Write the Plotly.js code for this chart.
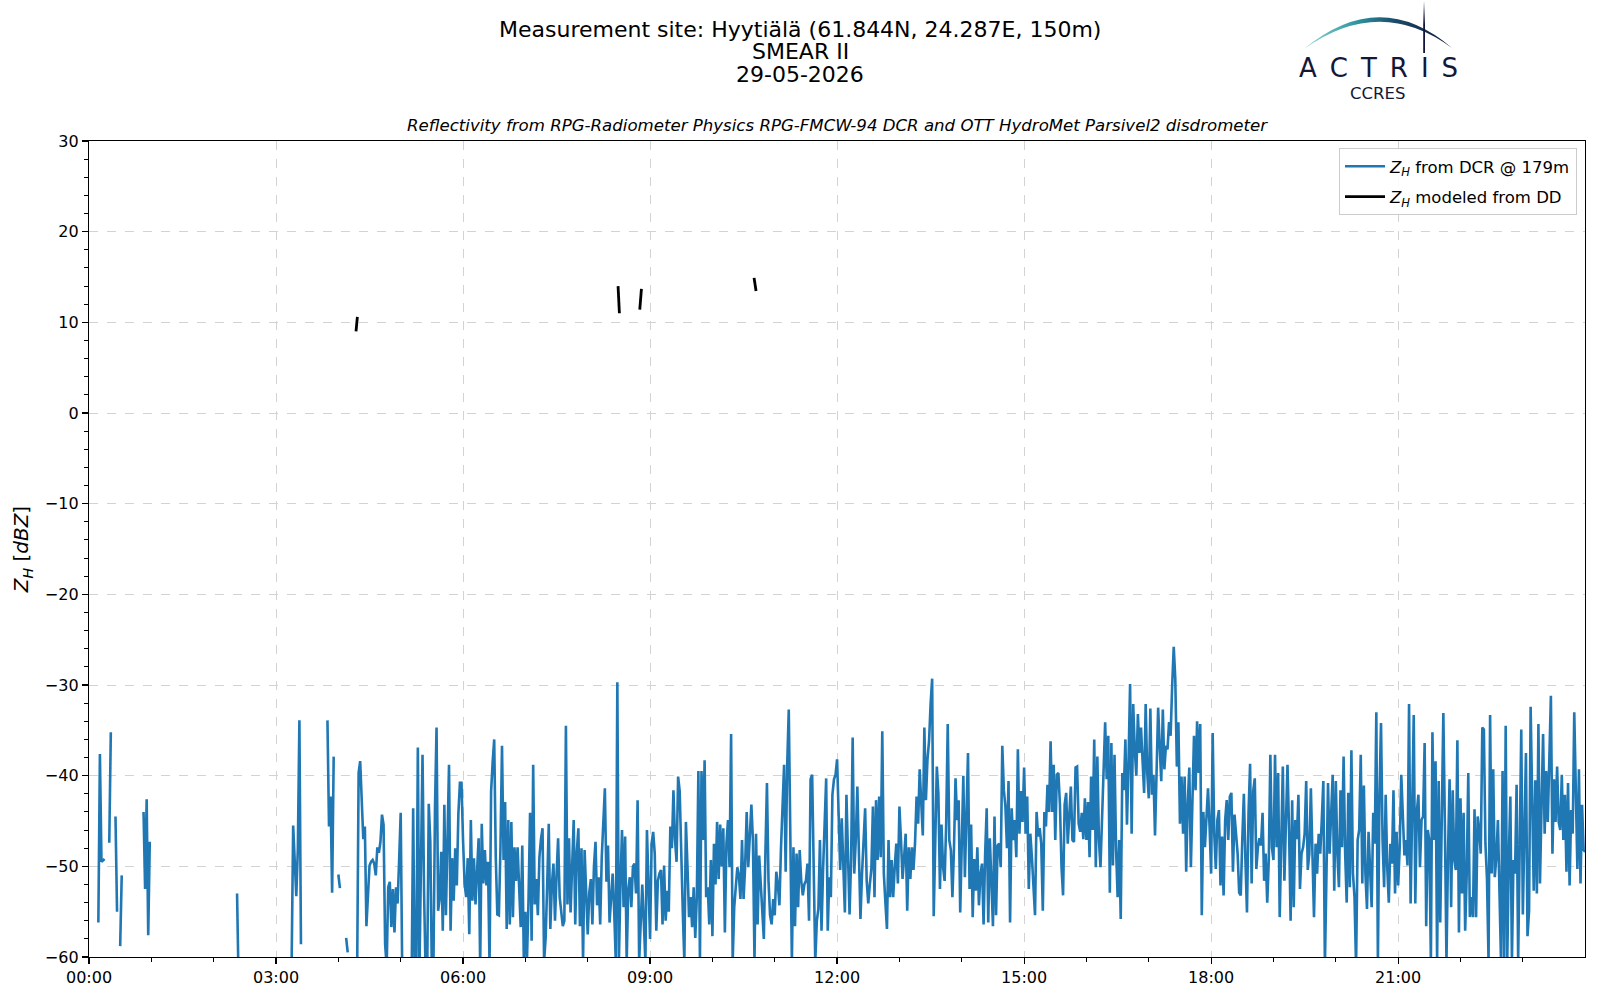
<!DOCTYPE html>
<html>
<head>
<meta charset="utf-8">
<script src="https://cdn.plot.ly/plotly-3.0.1.min.js"></script>
<style>
  html, body { margin: 0; padding: 0; background: #fff; }
  #chart { width: 1600px; height: 1000px; }
</style>
</head>
<body>
<div id="chart"></div>
<script>
// day of the measurement, samples of the DCR are 1.5 min apart starting at 00:00
const dayStart = Date.UTC(2026, 4, 29);
const dcrStepMin = 1.5;

// Z_H from DCR @ 179m [dBZ], one row = 15 min, null = no data
const dcrDbz = [
  // 00h
  null,null,null,null,null,null,-56.2,-37.6,-49.5,-49.3,
  -49.2,null,null,-47.4,-35.2,null,null,-44.5,-55,null,
  -58.8,-51,null,null,null,null,null,null,null,null,
  null,null,null,null,null,-44,-52.5,-42.6,-57.6,-47.3,
  // 01h
  null,null,null,null,null,null,null,null,null,null,
  null,null,null,null,null,null,null,null,null,null,
  null,null,null,null,null,null,null,null,null,null,
  null,null,null,null,null,null,null,null,null,null,
  // 02h
  null,null,null,null,null,null,null,null,null,null,
  null,null,null,null,null,-53,-63,null,null,null,
  null,null,null,null,null,null,null,null,null,null,
  null,null,null,null,null,null,null,null,null,null,
  // 03h
  null,null,null,null,null,null,null,null,null,-62,
  -61,-45.5,-50,-53.3,-48.1,-33.9,-58.6,null,null,null,
  null,null,null,null,null,null,null,null,null,null,
  null,null,null,-33.9,-45.6,-42.3,-52.9,-37.9,null,null,
  // 04h
  -50.9,-52.4,null,null,null,-57.9,-59.5,null,null,null,
  null,null,-63,-39.7,-38.4,-44,-47,-45.6,-56.6,-53.2,
  -49.9,-49.5,-49.3,-49.7,-51,-47.9,-48.5,-47.3,-44.3,-45.4,
  -58.6,-61,-52.3,-51.7,-56.7,-52.5,-57.3,-52.3,-54.1,-49.3,
  // 05h
  -44.1,-62,-63,-63,-63,-63,-63,-63,-43.6,-62,
  -62,-36.9,-62,-49.9,-37.7,-52.9,-62,-62,-43.1,-47.3,
  -62,-61,-43.6,-34.7,-54.9,-53.6,-48.4,-57.1,-43.2,-55.4,
  -47,-38.8,-57.1,-49.1,-53.8,-48,-52.1,-44.2,-40.8,-40.8,
  // 06h
  -47.1,-51.9,-53.4,-49.1,-57.5,-44.9,-53.8,-49.1,-54.2,-50.5,
  -46.9,-61,-45.3,-51.9,-48.2,-52.1,-49.5,-61,-41.7,-38.5,
  -36,-49,-55.3,-55.4,-48,-36.7,-49.3,-42.9,-56.9,-44.9,
  -56.4,-45.1,-55.6,-47.9,-51.6,-47.9,-52,-56.7,-47.7,-60.5,
  // 07h
  -55,-60.5,-53.8,-44.1,-58.2,-38.8,-54.2,-51.4,-55.4,-49,
  -47,-45.8,-60.5,-57.9,-52,-45.3,-56.9,-52,-49.7,-56,
  -51,-46.9,-53.4,-55,-56.6,-56,-34.5,-54.2,-46.9,-55.1,
  -50,-44.9,-56.4,-48.4,-45.8,-56.6,-48,-60.5,-48.2,-53.4,
  // 08h
  -57.5,-52.9,-51.4,-56.4,-50,-47.3,-54.3,-51.2,-56.4,-49,
  -44,-41.4,-51.7,-47.7,-56.2,-53,-50.8,-55,-60.5,-29.7,
  -60.5,-52,-46,-54.5,-46.7,-60.5,-52.5,-51.2,-54.5,-50,
  -49.7,-53,-42.7,-60.5,-56.7,-52,-56.2,-60.5,-46,-53.8,
  // 09h
  -58,-47.5,-46.2,-48.6,-57.1,-51.6,-50.8,-50.4,-56.4,-49.9,
  -56,-52.7,-55,-45.6,-48,-41.6,-47,-49.5,-40.1,-41.7,
  -49.3,-55,-60.5,-45.1,-50,-55.6,-53.4,-56.7,-52.3,-57.9,
  -53.4,-39.5,-60.5,-39.5,-47.1,-38.3,-53.4,-52.3,-56.4,-49.3,
  // 10h
  -57.7,-47.5,-52,-45.1,-51.4,-45.4,-50,-45.8,-57.3,-47.5,
  -44.9,-50.1,-35.4,-60.5,-54.5,-52.3,-50.1,-51,-53.6,-47.1,
  -53.6,-50,-44,-50.1,-47,-43.2,-47.1,-60.5,-46.4,-56.4,
  -48.8,-51.9,-55,-58,-48.6,-40.8,-51.6,-55.4,-56.4,-53.6,
  // 11h
  -55.4,-50.6,-52,-54.3,-48,-42.7,-38.8,-50.6,-38.8,-32.7,
  -46.4,-60.5,-47.9,-56.6,-48.6,-54.5,-48.2,-51.6,-53.2,-52,
  -51.6,-49.7,-56,-40.4,-39.9,-50,-60.5,-56,-54.7,-47.1,
  -57.1,-50.4,-46,-40.3,-57.1,-51.2,-53.4,-42.1,-40.4,-39.9,
  // 12h
  -38.2,-45.4,-50.4,-44.7,-50.4,-55.1,-42.1,-50,-55.3,-49.2,
  -35.8,-50.8,-47.1,-41.2,-50,-55.8,-50.8,-47,-43.6,-51.6,
  -54.1,-52,-50.3,-43.4,-53.4,-42.7,-49.3,-42.3,-49,-35.1,
  -50.8,-54,-56.9,-47.1,-53.4,-49.3,-53.4,-50,-47.5,-51.9,
  // 13h
  -43.4,-47.1,-51.4,-49,-46.4,-54.9,-47.9,-51.4,-47.9,-50.4,
  -47.5,-42.3,-45.3,-39.3,-42.3,-46.6,-34.7,-42.7,-38.2,-36.2,
  -32.1,-29.3,-55.5,-47,-39,-42,-52.5,-45.4,-50.1,-51.6,
  -45.3,-34.3,-47.1,-48.2,-53.4,-48,-40.3,-44.9,-42.7,-55.1,
  // 14h
  -45.8,-40,-51.2,-45.3,-37.5,-52.5,-45.4,-55.6,-49.2,-52.7,
  -47.9,-54.3,-50.8,-49.7,-56.4,-48.6,-43.6,-56.2,-46.9,-51.6,
  -56.6,-44.5,-55.4,-47.7,-47.5,-50.1,-36.7,-41.6,-43.4,-48,
  -40.6,-56.2,-43.6,-47.1,-44.9,-49,-37.1,-46.4,-41.7,-45.1,
  // 15h
  -39.1,-46.4,-42.3,-52.5,-46.4,-49,-51.6,-55.4,-44,-46.7,
  -45.8,-47.5,-54.9,-44,-45.6,-41,-44,-36.2,-44,-38.8,
  -47.1,-39.9,-39.7,-43.2,-50.1,-53.2,-43.2,-41.9,-47.5,-43.6,
  -41.2,-47.1,-47.3,-39.1,-39,-45.3,-46.2,-44.1,-47,-42.5,
  // 16h
  -47.1,-42.9,-49,-40.1,-46,-36,-50.1,-37.9,-47.1,-50.1,
  -45,-41.6,-34.1,-40.4,-35.6,-52.9,-36.4,-49.9,-37.7,-48,
  -53.4,-47.1,-55.8,-39.7,-41.6,-36,-45.4,-38.4,-29.9,-46.4,
  -32.1,-37.1,-40,-33.2,-37.5,-34.7,-38.2,-41.9,-32.1,-39.7,
  // 17h
  -42.5,-32.6,-42.1,-39.9,-46.6,-38.2,-32.5,-36.7,-40.6,-32.7,
  -39.3,-36.7,-37.1,-34.1,-35.6,-30.1,-25.8,-29.3,-39,-34.1,
  -45.3,-40.1,-46.4,-40.1,-50.6,-43,-39.1,-50.1,-41.6,-35.6,
  -41.6,-34,-39.7,-34.3,-55.4,-44,-47.9,-44.1,-41.4,-45.6,
  // 18h
  -50.8,-35.3,-46.4,-50.3,-44.9,-43.8,-52.1,-46.7,-53.2,-44.9,
  -42.7,-47.1,-42.3,-41.9,-50.6,-44.3,-46.4,-48.6,-52.9,-53.2,
  -47,-42,-49.3,-55.1,-44.1,-38.7,-51.9,-41.7,-40.3,-50.3,
  -47.9,-46.9,-47.7,-44.1,-51.6,-48.6,-54,-49.3,-37.7,-47.9,
  // 19h
  -49.3,-37.7,-47.9,-39.7,-55.6,-46.7,-39,-51.6,-46.4,-38.8,
  -46,-56,-42.7,-54.5,-44.9,-47,-42.1,-52.5,-48.6,-47.9,
  -46.4,-40.6,-50.4,-48.6,-41.4,-50.4,-55.6,-47.5,-50.8,-46.4,
  -48.6,-44.9,-40.6,-61,-50.8,-40.8,-48.6,-44.9,-39.9,-52.7,
  // 20h
  -40.6,-48.6,-52.3,-41.6,-47.9,-37.9,-48.6,-54,-41.9,-52.3,
  -37.2,-50.8,-53.4,-61,-47.1,-46,-37.7,-51.9,-41.1,-50.8,
  -54.7,-46.2,-51.6,-54.5,-44.1,-47.5,-33,-60.5,-42.3,-34.2,
  -47.1,-52.3,-42.1,-50.1,-54,-47.5,-49.7,-41.6,-53,-46.2,
  // 21h
  -52.1,-47.9,-39.9,-43.6,-48.8,-47.1,-49.9,-32.1,-54.1,-43.9,
  -33.3,-54.1,-43.9,-42.1,-50.1,-44.9,-44.5,-36.4,-56.6,-46,
  -47.1,-60.5,-35.2,-47.1,-38.4,-60.5,-40.6,-56.2,-45.6,-33.1,
  -45.6,-60.5,-48.6,-40.4,-54.5,-41.6,-49.3,-50.4,-36.1,-57.3,
  // 22h
  -42.5,-53,-44.1,-57.1,-50.8,-39.7,-55.6,-53.4,-55.6,-43.7,
  -55.6,-44.5,-46,-48.6,-34.7,-34.9,-47.5,-51.4,-60.5,-33.3,
  -50.8,-39.3,-51.2,-49,-44.9,-55.3,-60.5,-39.5,-60.5,-34.5,
  -60.5,-49,-42.3,-60.5,-49.3,-50.8,-41,-60.5,-50.1,-34.9,
  // 23h
  -55.3,-47.9,-37.5,-57.7,-54.9,-32.4,-43.4,-52.7,-40.5,-53,
  -34.3,-51.9,-43.4,-35.4,-46.4,-39.5,-45.1,-39.3,-31.2,-48.6,
  -40.4,-45.1,-39,-45.1,-46,-39.9,-47.1,-42.1,-50.6,-40.8,
  -52.1,-43.8,-46.4,-33,-43.2,-50.3,-39.3,-51.9,-43.2,-48.2,
  // 24:00
  -48.4
];

// Z_H modeled from the disdrometer: minutes after 00:00 and dBZ, null breaks the line
const ddMinutes = [257, 258.3, null, 509.2, 510.5, null, 530.1, 531.7, null, 640.1, 642];
const ddDbz     = [9.0, 10.6, null, 14.0, 11.0, null, 11.4, 13.7, null, 14.9, 13.45];

const siteTitle = 'Measurement site: Hyytiälä (61.844N, 24.287E, 150m)';
const stationName = 'SMEAR II';
const dateLabel = '29-05-2026';
const subTitle = 'Reflectivity from RPG-Radiometer Physics RPG-FMCW-94 DCR and OTT HydroMet Parsivel2 disdrometer';
const seriesNames = ['<i>Z</i><sub><i>H</i></sub> from DCR @ 179m', '<i>Z</i><sub><i>H</i></sub> modeled from DD'];

// plot area in pixels, used to place things that sit outside it
const W = 1600, H = 1000;
const plotL = 89, plotR = 1585, plotT = 141, plotB = 957;
const px = x => (x - plotL) / (plotR - plotL);
const py = y => (plotB - y) / (plotB - plotT);

const dcrTimes = dcrDbz.map((_, i) => dayStart + i * dcrStepMin * 60000);
const ddTimes = ddMinutes.map(m => m === null ? null : dayStart + m * 60000);

const traceDcr = {
    x: dcrTimes, y: dcrDbz, type: 'scatter', mode: 'lines',
    name: seriesNames[0], legendgroup: 'dcr',
    line: {color: '#1f77b4', width: 2.6},
    connectgaps: false
};
const traceDd = {
    x: ddTimes, y: ddDbz, type: 'scatter', mode: 'lines',
    name: seriesNames[1], legendgroup: 'dd',
    line: {color: '#000000', width: 2.8},
    connectgaps: false
};

// ACTRIS logo arc, the letters are drawn as text
const logoSvg = '<svg xmlns="http://www.w3.org/2000/svg" width="160" height="60" viewBox="0 0 160 60">' +
    '<defs><linearGradient id="g" x1="0" y1="0" x2="1" y2="0">' +
    '<stop offset="0" stop-color="#8fd6d1"/><stop offset="0.35" stop-color="#2f97a0"/>' +
    '<stop offset="0.62" stop-color="#1b4a6a"/><stop offset="1" stop-color="#121638"/></linearGradient>' +
    '<linearGradient id="v" x1="0" y1="0" x2="0" y2="1">' +
    '<stop offset="0" stop-color="#121638" stop-opacity="0"/><stop offset="0.45" stop-color="#121638"/></linearGradient></defs>' +
    '<path d="M4 49 Q80 -14 152 48 Q80 -5 4 49 Z" fill="url(#g)"/>' +
    '<rect x="123.2" y="1" width="1.8" height="52" fill="url(#v)"/></svg>';

const axisCommon = {
    showline: true, linecolor: 'black', linewidth: 1.2, mirror: true,
    ticks: 'outside', ticklen: 6, tickwidth: 1.2, tickcolor: 'black',
    showgrid: true, gridcolor: '#d3d3d3', griddash: 'dash', gridwidth: 1,
    zeroline: false,
    tickfont: {family: 'DejaVu Sans', size: 16, color: 'black'}
};

const annot = (text, x, y, size, extra) => Object.assign({
    text: text, x: x, y: y, xref: 'paper', yref: 'paper',
    xanchor: 'center', yanchor: 'middle', showarrow: false,
    font: {family: 'DejaVu Sans', size: size, color: 'black'}
}, extra || {});

const layout = {
    width: W, height: H,
    margin: {l: plotL, r: W - plotR, t: plotT, b: H - plotB, pad: 0},
    paper_bgcolor: 'white', plot_bgcolor: 'white',
    font: {family: 'DejaVu Sans', color: 'black'},
    showlegend: true,
    legend: {
        x: px(1577), y: py(148), xanchor: 'right', yanchor: 'top',
        traceorder: 'grouped', tracegroupgap: 6, itemwidth: 40,
        bgcolor: 'rgba(255,255,255,0.85)', bordercolor: '#cccccc', borderwidth: 1,
        font: {family: 'DejaVu Sans', size: 16.5, color: 'black'}
    },
    xaxis: Object.assign({}, axisCommon, {
        type: 'date',
        range: [dayStart, dayStart + 24 * 3600000 - 10000],
        dtick: 3 * 3600000, tick0: dayStart, tickformat: '%H:%M',
        minor: {dtick: 3600000, ticklen: 3.5, tickcolor: 'black', tickwidth: 1, showgrid: false}
    }),
    yaxis: Object.assign({}, axisCommon, {
        range: [-60, 30], dtick: 10, tick0: 0,
        minor: {dtick: 2, ticklen: 3.5, tickcolor: 'black', tickwidth: 1, showgrid: false},
        title: {text: '<i>Z</i><sub><i>H</i></sub> [<i>dBZ</i>]', standoff: 10,
                font: {family: 'DejaVu Sans', size: 20, color: 'black'}}
    }),
    annotations: [
        annot(siteTitle, px(800), py(29), 22),
        annot(stationName, px(800), py(51.5), 22),
        annot(dateLabel, px(800), py(74.5), 22),
        annot('<i>' + subTitle + '</i>', 0.5, py(125.5), 16.6),
        annot('A\u2002C\u2002T\u2002R\u2002I\u2002S', px(1378), py(68), 26, {font: {family: 'DejaVu Sans', size: 26, color: '#141838'}}),
        annot('CCRES', px(1377), py(93.5), 16.5, {font: {family: 'DejaVu Sans', size: 16.5, color: '#141838'}})
    ],
    images: [{
        source: 'data:image/svg+xml;charset=utf-8,' + encodeURIComponent(logoSvg),
        xref: 'paper', yref: 'paper',
        x: px(1300), y: py(0), sizex: 160 / (plotR - plotL), sizey: 60 / (plotB - plotT),
        xanchor: 'left', yanchor: 'top', sizing: 'stretch', layer: 'above'
    }]
};

Plotly.newPlot('chart', [traceDcr, traceDd], layout, {displayModeBar: false, staticPlot: true});
</script>
</body>
</html>
